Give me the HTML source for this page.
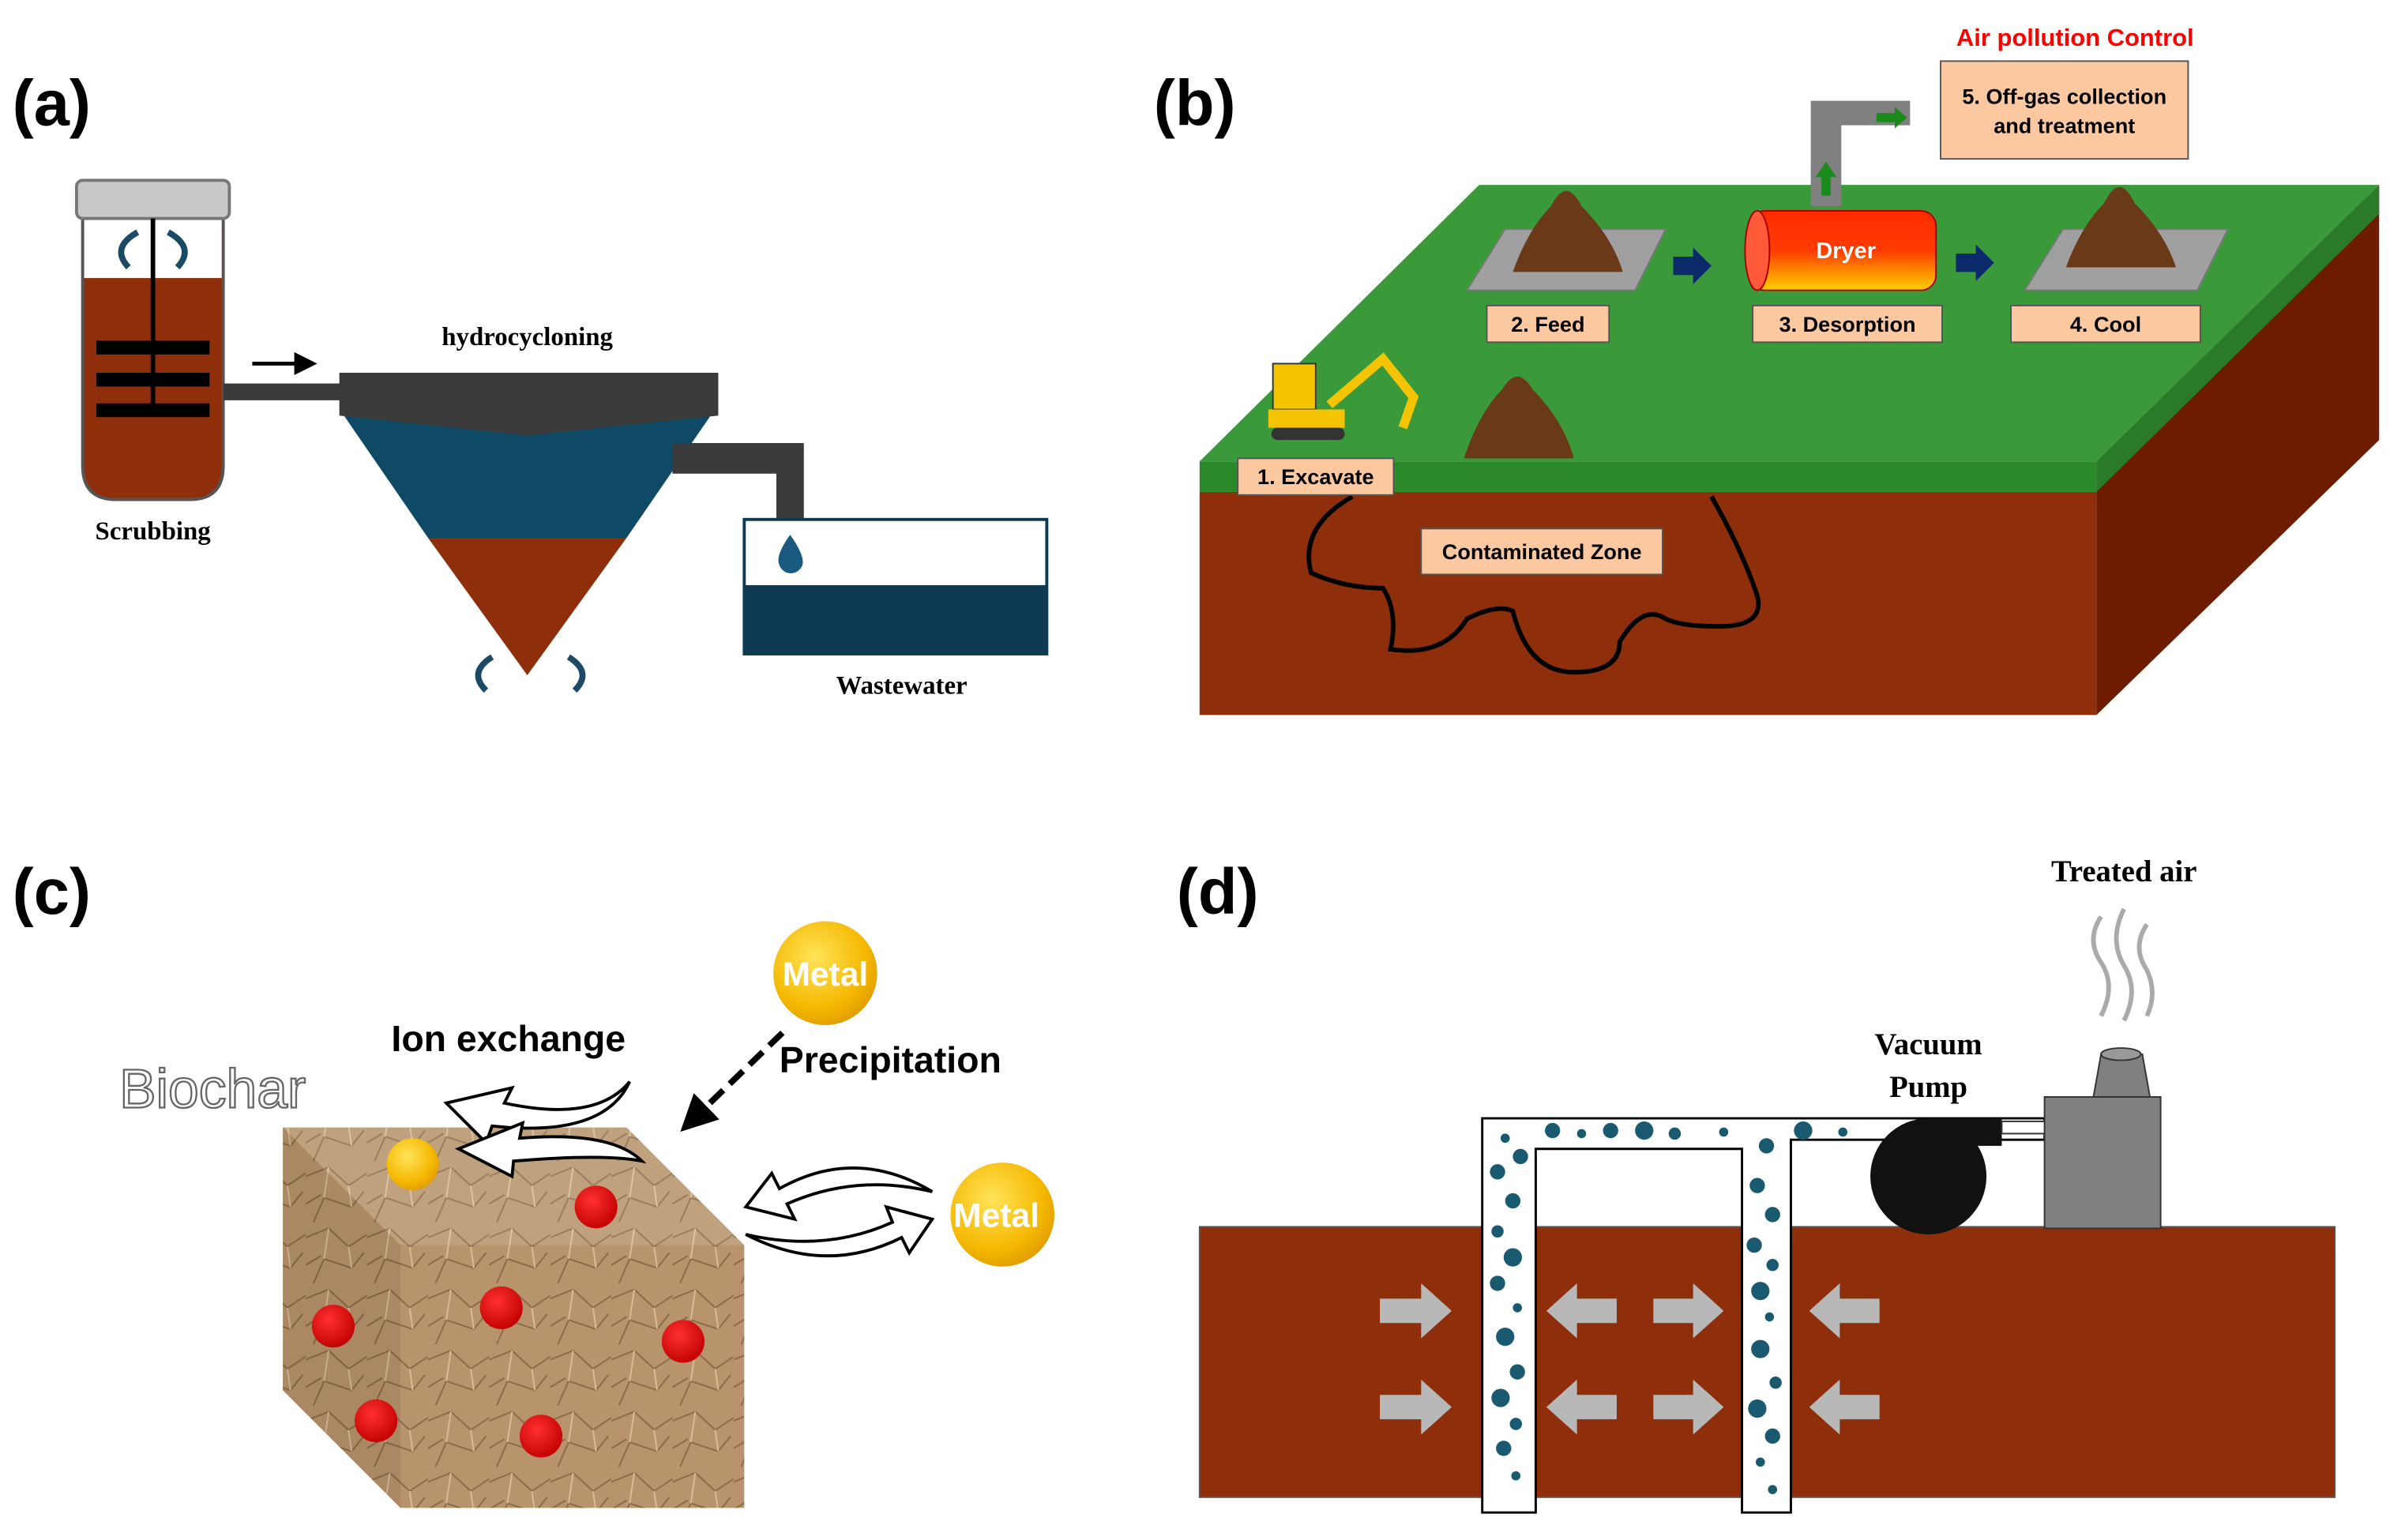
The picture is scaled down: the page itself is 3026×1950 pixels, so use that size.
<!DOCTYPE html>
<html><head><meta charset="utf-8"><style>
html,body{margin:0;padding:0;background:#fff;}
svg{display:block;}
text{font-family:"Liberation Sans",sans-serif;}
.serif{font-family:"Liberation Serif",serif;font-weight:bold;}
</style></head><body>
<svg width="3026" height="1950" viewBox="0 0 1564 1008" xmlns="http://www.w3.org/2000/svg">
<defs>
<marker id="ah" markerWidth="6" markerHeight="6" refX="5" refY="3" orient="auto"><path d="M0,0L6,3L0,6z" fill="#000"/></marker>
<radialGradient id="gold" cx="0.4" cy="0.35" r="0.7"><stop offset="0" stop-color="#ffe45a"/><stop offset="0.7" stop-color="#f5b800"/><stop offset="1" stop-color="#e09a00"/></radialGradient>
<radialGradient id="red" cx="0.4" cy="0.35" r="0.7"><stop offset="0" stop-color="#ff3030"/><stop offset="1" stop-color="#c00000"/></radialGradient>
<linearGradient id="dryer" x1="0" y1="0" x2="0" y2="1"><stop offset="0" stop-color="#ff2a00"/><stop offset="0.5" stop-color="#ff3b00"/><stop offset="1" stop-color="#ffd000"/></linearGradient>
<pattern id="crumple" width="40" height="40" patternUnits="userSpaceOnUse"><rect width="40" height="40" fill="#b8946c"/><path d="M0,10L15,4L28,16L40,8M5,40L12,24L30,30L38,20M0,28L10,22" stroke="#8a6a48" stroke-width="1" fill="none"/><path d="M15,4L12,24M28,16L30,30" stroke="#d8bc98" stroke-width="1" fill="none"/></pattern>
</defs>

<!-- (a) -->
<text x="8" y="82" font-size="42" font-weight="bold">(a)</text>
<path d="M54,143 H146 V305 Q146,327 124,327 H76 Q54,327 54,305 Z" fill="#8f2e0a" stroke="#555" stroke-width="2"/>
<rect x="55" y="143" width="90" height="39" fill="#fff"/>
<rect x="50" y="118" width="100" height="25" rx="4" fill="#c8c8c8" stroke="#777" stroke-width="2"/>
<line x1="100" y1="143" x2="100" y2="268" stroke="#000" stroke-width="3"/>
<rect x="63" y="223" width="74" height="9" fill="#000"/>
<rect x="63" y="244" width="74" height="9" fill="#000"/>
<rect x="63" y="264" width="74" height="9" fill="#000"/>
<path d="M90,152 Q72,162 84,175" stroke="#1a4a66" stroke-width="4" fill="none"/>
<path d="M110,152 Q128,162 116,175" stroke="#1a4a66" stroke-width="4" fill="none"/>
<rect x="146" y="251" width="80" height="11" fill="#3a3a3a"/>
<line x1="165" y1="238" x2="205" y2="238" stroke="#000" stroke-width="2.5" marker-end="url(#ah)"/>
<text x="345" y="226" font-size="17" text-anchor="middle" class="serif">hydrocycloning</text>
<text x="100" y="353" font-size="17" text-anchor="middle" class="serif">Scrubbing</text>
<polygon points="225,272 465,272 410,352 280,352" fill="#0e4a66"/>
<polygon points="280,352 410,352 345,442" fill="#8f2e0a"/>
<polygon points="222,244 470,244 470,272 345,285 222,272" fill="#3a3a3a"/>
<path d="M440,290 H526 V345 H508 V310 H440 Z" fill="#3a3a3a"/>
<rect x="487" y="340" width="198" height="88" fill="#fff" stroke="#0d3a52" stroke-width="2"/>
<rect x="487" y="383" width="198" height="45" fill="#0d3a52"/>
<path d="M517,350 Q507,364 510,370 A8,8 0 0 0 525,370 Q527,364 517,350Z" fill="#1a5a80"/>
<path d="M322,430 Q306,440 318,452" stroke="#1a4a66" stroke-width="4" fill="none"/>
<path d="M372,430 Q388,440 376,452" stroke="#1a4a66" stroke-width="4" fill="none"/>
<text x="590" y="454" font-size="17" text-anchor="middle" class="serif">Wastewater</text>

<!-- (b) -->
<text x="755" y="82" font-size="42" font-weight="bold">(b)</text>
<polygon points="1372,302 1557,121 1557,288 1372,468" fill="#6e1c00"/>
<polygon points="1372,302 1557,121 1557,140 1372,322" fill="#2a7a2a"/>
<rect x="785" y="322" width="587" height="146" fill="#8f2e0a"/>
<rect x="785" y="302" width="587" height="20" fill="#2a8a2a"/>
<polygon points="785,302 968,121 1557,121 1372,302" fill="#3a9a3a"/>
<path d="M885,325 Q850,345 858,375 Q880,385 905,385 Q915,400 910,425 Q945,430 960,405 Q980,395 990,400 Q1000,440 1030,440 Q1060,440 1060,420 Q1075,395 1090,405 Q1100,410 1125,410 Q1155,410 1150,390 Q1140,360 1120,325" stroke="#000" stroke-width="3" fill="none"/>
<!-- pads -->
<polygon points="985,150 1090,150 1070,190 960,190" fill="#a0a0a0" stroke="#777"/>
<polygon points="1350,150 1458,150 1438,190 1325,190" fill="#a0a0a0" stroke="#777"/>
<path d="M990,178 Q1000,150 1015,135 Q1025,115 1035,135 Q1055,155 1062,178 Z" fill="#6a3a18"/>
<path d="M1352,175 Q1362,148 1377,133 Q1387,112 1397,133 Q1417,153 1424,175 Z" fill="#6a3a18"/>
<path d="M958,300 Q968,270 983,255 Q993,238 1003,255 Q1023,275 1030,300 Z" fill="#6a3a18"/>
<!-- excavator -->
<rect x="833" y="238" width="28" height="30" fill="#f5c400" stroke="#333"/>
<rect x="830" y="268" width="50" height="12" fill="#f5c400"/>
<rect x="832" y="280" width="48" height="8" rx="4" fill="#333"/>
<path d="M870,265 L905,235 L925,260 L918,280" stroke="#f5c400" stroke-width="6" fill="none"/>
<!-- arrows -->
<polygon points="1095,168 1108,168 1108,162 1120,174 1108,186 1108,180 1095,180" fill="#0a2a6a"/>
<polygon points="1280,166 1293,166 1293,160 1305,172 1293,184 1293,178 1280,178" fill="#0a2a6a"/>
<!-- dryer -->
<path d="M1185,66 H1250 V82 H1205 V135 H1185Z" fill="#808080"/>
<polygon points="1228,74 1240,74 1240,70 1248,77 1240,84 1240,80 1228,80" fill="#1a8a1a"/>
<polygon points="1192,128 1192,116 1188,116 1195,106 1202,116 1198,116 1198,128" fill="#1a8a1a"/>
<rect x="1145" y="138" width="122" height="52" rx="10" fill="url(#dryer)" stroke="#a00" />
<ellipse cx="1150" cy="164" rx="8" ry="26" fill="#ff5a3a" stroke="#a00"/>
<text x="1208" y="169" font-size="15" font-weight="bold" fill="#fff" text-anchor="middle">Dryer</text>
<g font-size="14" font-weight="bold" text-anchor="middle">
<rect x="973" y="200" width="80" height="24" fill="#fbc8a0" stroke="#555"/><text x="1013" y="217">2. Feed</text>
<rect x="1147" y="200" width="124" height="24" fill="#fbc8a0" stroke="#555"/><text x="1209" y="217">3. Desorption</text>
<rect x="1316" y="200" width="124" height="24" fill="#fbc8a0" stroke="#555"/><text x="1378" y="217">4. Cool</text>
<rect x="810" y="300" width="102" height="24" fill="#fbc8a0" stroke="#555"/><text x="861" y="317">1. Excavate</text>
<rect x="930" y="346" width="158" height="30" fill="#fbc8a0" stroke="#555"/><text x="1009" y="366">Contaminated Zone</text>
<rect x="1270" y="40" width="162" height="64" fill="#fbc8a0" stroke="#555"/><text x="1351" y="68">5. Off-gas collection</text><text x="1351" y="87">and treatment</text>
</g>
<text x="1358" y="30" font-size="16" font-weight="bold" fill="#f00" text-anchor="middle">Air pollution Control</text>

<!-- (c) -->
<text x="8" y="598" font-size="42" font-weight="bold">(c)</text>
<polygon points="185,738 410,738 487,815 487,987 262,987 185,910" fill="url(#crumple)"/>
<polygon points="185,738 410,738 487,815 262,815" fill="#fff" opacity="0.12"/>
<polygon points="185,738 262,815 262,987 185,910" fill="#000" opacity="0.08"/>
<text x="78" y="725" font-size="36" fill="#fff" stroke="#666" stroke-width="1.2">Biochar</text>
<text x="256" y="688" font-size="24" font-weight="bold">Ion exchange</text>
<text x="510" y="702" font-size="24" font-weight="bold">Precipitation</text>
<line x1="512" y1="676" x2="448" y2="738" stroke="#000" stroke-width="4" stroke-dasharray="12,6" marker-end="url(#ah)"/>
<path d="M412,708 Q390,735 330,722 L335,712 L292,722 L318,748 L322,737 Q395,745 412,708Z" fill="#fff" stroke="#000" stroke-width="2"/>
<path d="M420,760 Q400,740 340,745 L342,735 L300,752 L335,770 L336,760 Q395,755 420,760Z" fill="#fff" stroke="#000" stroke-width="2"/>
<path d="M610,780 Q560,750 510,778 L505,768 L488,790 L520,798 L515,788 Q560,768 610,780Z" fill="#fff" stroke="#000" stroke-width="2"/>
<path d="M488,808 Q540,835 590,810 L595,820 L610,798 L580,790 L584,800 Q540,820 488,808Z" fill="#fff" stroke="#000" stroke-width="2"/>
<circle cx="540" cy="637" r="34" fill="url(#gold)"/>
<text x="540" y="645" font-size="22" font-weight="bold" fill="#fff" text-anchor="middle">Metal</text>
<circle cx="656" cy="795" r="34" fill="url(#gold)"/>
<text x="652" y="803" font-size="22" font-weight="bold" fill="#fff" text-anchor="middle">Metal</text>
<circle cx="270" cy="762" r="17" fill="url(#gold)"/>
<g fill="url(#red)"><circle cx="390" cy="790" r="14"/><circle cx="218" cy="868" r="14"/><circle cx="328" cy="856" r="14"/><circle cx="447" cy="878" r="14"/><circle cx="246" cy="930" r="14"/><circle cx="354" cy="940" r="14"/></g>

<!-- (d) -->
<text x="770" y="598" font-size="42" font-weight="bold">(d)</text>
<text x="1390" y="577" font-size="20" text-anchor="middle" class="serif">Treated air</text>
<text x="1262" y="690" font-size="20" text-anchor="middle" class="serif">Vacuum</text>
<text x="1262" y="718" font-size="20" text-anchor="middle" class="serif">Pump</text>
<path d="M1375,600 Q1365,615 1375,630 Q1385,645 1375,665 M1390,595 Q1380,615 1390,632 Q1400,648 1390,668 M1405,605 Q1395,620 1405,635 Q1412,650 1405,665" stroke="#aaa" stroke-width="3" fill="none"/>
<rect x="785" y="803" width="743" height="177" fill="#8f2e0a" stroke="#555"/>
<path d="M970,990 V732 H1338 V746 H1172 V990 H1140 V752 H1005 V990 Z" fill="#fff" stroke="#000" stroke-width="1.5"/>
<g fill="#1a5a70">
<circle cx="985" cy="745" r="3"/><circle cx="995" cy="757" r="5"/><circle cx="980" cy="767" r="5"/><circle cx="990" cy="786" r="5"/><circle cx="980" cy="806" r="4"/><circle cx="990" cy="823" r="6"/><circle cx="980" cy="840" r="5"/><circle cx="993" cy="856" r="3"/><circle cx="985" cy="875" r="6"/><circle cx="993" cy="898" r="5"/><circle cx="982" cy="915" r="6"/><circle cx="992" cy="932" r="4"/><circle cx="984" cy="948" r="5"/><circle cx="992" cy="966" r="3"/>
<circle cx="1016" cy="740" r="5"/><circle cx="1035" cy="742" r="3"/><circle cx="1054" cy="740" r="5"/><circle cx="1076" cy="740" r="6"/><circle cx="1096" cy="742" r="4"/><circle cx="1128" cy="741" r="3"/><circle cx="1180" cy="740" r="6"/><circle cx="1206" cy="741" r="3"/>
<circle cx="1156" cy="750" r="5"/><circle cx="1150" cy="776" r="5"/><circle cx="1160" cy="795" r="5"/><circle cx="1148" cy="815" r="5"/><circle cx="1160" cy="828" r="4"/><circle cx="1152" cy="845" r="6"/><circle cx="1158" cy="862" r="3"/><circle cx="1152" cy="883" r="6"/><circle cx="1162" cy="905" r="4"/><circle cx="1150" cy="922" r="6"/><circle cx="1160" cy="940" r="5"/><circle cx="1152" cy="957" r="3"/><circle cx="1160" cy="975" r="3"/>
</g>
<circle cx="1262" cy="770" r="38" fill="#111"/>
<rect x="1262" y="732" width="48" height="18" fill="#111"/>
<rect x="1338" y="718" width="76" height="86" fill="#808080" stroke="#333"/>
<path d="M1370,718 L1375,690 H1402 L1407,718Z" fill="#808080" stroke="#333"/>
<ellipse cx="1388" cy="690" rx="13" ry="4" fill="#999" stroke="#333"/>
<rect x="1310" y="734" width="28" height="8" fill="#fff" stroke="#333"/>
<g fill="#b8b8b8">
<polygon points="903,850 930,850 930,840 950,858 930,876 930,866 903,866"/>
<polygon points="903,913 930,913 930,903 950,921 930,939 930,929 903,929"/>
<polygon points="1082,850 1108,850 1108,840 1128,858 1108,876 1108,866 1082,866"/>
<polygon points="1082,913 1108,913 1108,903 1128,921 1108,939 1108,929 1082,929"/>
<polygon points="1058,850 1032,850 1032,840 1012,858 1032,876 1032,866 1058,866"/>
<polygon points="1058,913 1032,913 1032,903 1012,921 1032,939 1032,929 1058,929"/>
<polygon points="1230,850 1204,850 1204,840 1184,858 1204,876 1204,866 1230,866"/>
<polygon points="1230,913 1204,913 1204,903 1184,921 1204,939 1204,929 1230,929"/>
</g>
</svg>
</body></html>
